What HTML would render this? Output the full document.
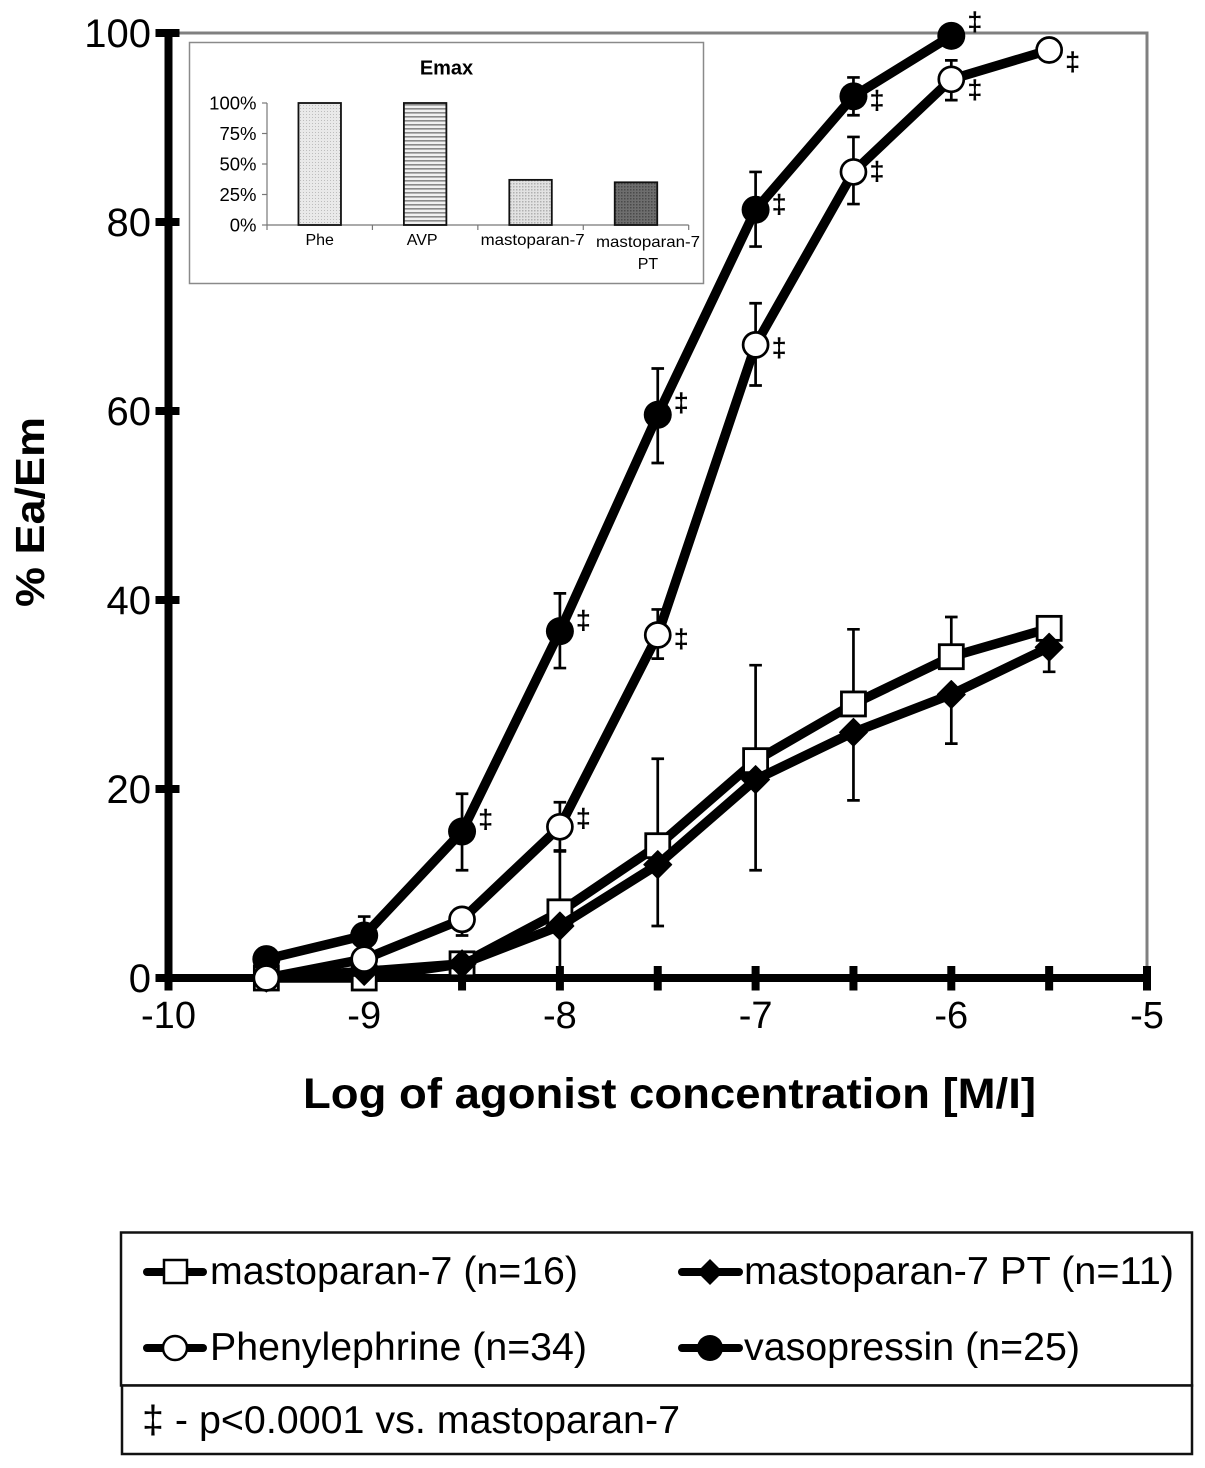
<!DOCTYPE html>
<html lang="en">
<head>
<meta charset="utf-8">
<title>Concentration-response curves</title>
<style>
html,body{margin:0;padding:0;background:#fff;}
svg{display:block;font-family:"Liberation Sans",Arial,sans-serif;}
</style>
</head>
<body>
<svg id="chart" xmlns="http://www.w3.org/2000/svg" width="1205" height="1468" viewBox="0 0 1205 1468">
  <defs>
    <pattern id="p-phe" width="3" height="3" patternUnits="userSpaceOnUse"><rect width="3" height="3" fill="#e9e9e9"/><rect width="1" height="1" fill="#bdbdbd"/></pattern>
    <pattern id="p-avp" width="4" height="4" patternUnits="userSpaceOnUse"><rect width="4" height="4" fill="#f0f0f0"/><rect width="4" height="1.6" fill="#8a8a8a"/></pattern>
    <pattern id="p-m7" width="3" height="3" patternUnits="userSpaceOnUse"><rect width="3" height="3" fill="#e2e2e2"/><rect width="1.5" height="1.5" fill="#b0b0b0"/></pattern>
    <pattern id="p-pt" width="3" height="3" patternUnits="userSpaceOnUse"><rect width="3" height="3" fill="#6e6e6e"/><rect width="1.5" height="1.5" fill="#4a4a4a"/></pattern>
  </defs>
  <g id="main-plot"></g>
  <g id="inset"></g>
  <text transform="translate(44,512) rotate(-90)" text-anchor="middle" font-size="41" font-weight="bold" textLength="190" lengthAdjust="spacingAndGlyphs">% Ea/Em</text>
  <text x="303" y="1108" font-size="43" font-weight="bold" textLength="733" lengthAdjust="spacingAndGlyphs">Log of agonist concentration [M/I]</text>

  <g>
    <rect x="121" y="1232.5" width="1071" height="153" fill="#fff" stroke="#111" stroke-width="2.5"/>
    <rect x="122" y="1385.5" width="1070" height="68.5" fill="#fff" stroke="#111" stroke-width="2.5"/>
    <g>
      <line x1="147" y1="1272" x2="203" y2="1272" stroke="#000" stroke-width="8" stroke-linecap="round"/>
      <rect x="164" y="1260" width="23" height="23" fill="#fff" stroke="#000" stroke-width="2.5"/>
      <text x="210" y="1284" font-size="39" textLength="368" lengthAdjust="spacingAndGlyphs">mastoparan-7 (n=16)</text>
    </g>
    <g>
      <line x1="682" y1="1272" x2="739" y2="1272" stroke="#000" stroke-width="8" stroke-linecap="round"/>
      <polygon points="710,1259 723,1272 710,1285 697,1272" fill="#000"/>
      <text x="744" y="1284" font-size="39" textLength="430" lengthAdjust="spacingAndGlyphs">mastoparan-7 PT (n=11)</text>
    </g>
    <g>
      <line x1="147" y1="1348" x2="203" y2="1348" stroke="#000" stroke-width="8" stroke-linecap="round"/>
      <circle cx="175" cy="1348" r="12" fill="#fff" stroke="#000" stroke-width="2.5"/>
      <text x="210" y="1360" font-size="39" textLength="377" lengthAdjust="spacingAndGlyphs">Phenylephrine (n=34)</text>
    </g>
    <g>
      <line x1="682" y1="1348" x2="739" y2="1348" stroke="#000" stroke-width="8" stroke-linecap="round"/>
      <circle cx="710" cy="1348" r="13" fill="#000"/>
      <text x="744" y="1360" font-size="39" textLength="336" lengthAdjust="spacingAndGlyphs">vasopressin (n=25)</text>
    </g>
    <text x="142" y="1433" font-size="39" textLength="538" lengthAdjust="spacingAndGlyphs">‡ - p&lt;0.0001 vs. mastoparan-7</text>
  </g>
</svg>
<script>
// ---- main chart data ----
const concentrations = [-9.5, -9, -8.5, -8, -7.5, -7, -6.5, -6, -5.5];
const xTickLabels = [-10, -9, -8, -7, -6, -5];
const xMinorTicks = [-9.5, -9, -8.5, -8, -7.5, -7, -6.5, -6, -5.5, -5];
const yTickLabels = [0, 20, 40, 60, 80, 100];

const mastoparanValues = [0, 0, 1.5, 7, 14, 23, 29, 34, 37];
const mastoparanUpper = [null, null, null, 13.4, 23.2, 33.1, 36.9, 38.2, null];
const ptValues = [0, 0.7, 1.5, 5.5, 12, 21, 26, 30, 35];
const ptLower = [null, null, null, 0, 5.5, 11.4, 18.8, 24.8, 32.4];
const pheValues = [0, 2, 6.2, 16, 36.3, 67, 85.3, 95.1, 98.2];
const pheUpper = [null, null, null, 18.6, 39, 71.4, 89, 97.1, null];
const pheLower = [null, null, 4.5, 13.5, 33.8, 62.7, 81.9, 92.9, null];
const avpValues = [2, 4.5, 15.5, 36.7, 59.6, 81.3, 93.3, 99.7, null];
const avpUpper = [null, 6.5, 19.5, 40.7, 64.5, 85.3, 95.3, null, null];
const avpLower = [null, null, 11.4, 32.8, 54.5, 77.4, 91.3, null, null];

const avpDaggerValues = [null, null, 16.7, 37.8, 60.8, 81.8, 92.8, 101.1, null];
const pheDaggerValues = [null, null, null, 16.8, 35.8, 66.6, 85.3, 93.9, 96.9];

// ---- inset chart data ----
const insetCategories = [["Phe"], ["AVP"], ["mastoparan-7"], ["mastoparan-7", "PT"]];
const insetValues = [100, 100, 37, 35];
const insetTicks = [0, 25, 50, 75, 100];

const NS = "http://www.w3.org/2000/svg";
function make(parent, tag, attrs, txt) {
  const el = document.createElementNS(NS, tag);
  for (const k in attrs) el.setAttribute(k, attrs[k]);
  if (txt !== undefined) el.textContent = txt;
  parent.appendChild(el);
  return el;
}
function xScale(v) { return 168.5 + (v + 10) * (1147 - 168.5) / 5; }
function yScale(v) { return 978 - v * (978 - 33) / 100; }

const plot = document.getElementById("main-plot");

// frame
const frame = make(plot, "path", {d: "M" + xScale(-10) + " " + yScale(100) + "H" + xScale(-5) + "V" + yScale(0), fill: "none", stroke: "#808080", "stroke-width": 3});



// axes
const yAxis = make(plot, "line", {x1: xScale(-10), x2: xScale(-10), y1: yScale(100) - 4, y2: yScale(0) + 12.5, stroke: "#000", "stroke-width": 8});


const xAxis = make(plot, "line", {x1: xScale(-10) - 13, x2: xScale(-5) + 4, y1: yScale(0), y2: yScale(0), stroke: "#000", "stroke-width": 8});



yTickLabels.forEach(function (v) {
  const t = make(plot, "line", {x1: xScale(-10) - 13, x2: xScale(-10) + 11, y1: yScale(v), y2: yScale(v), stroke: "#000", "stroke-width": 8});
  
  
  const l = make(plot, "text", {x: 151, y: yScale(v) + 14, "text-anchor": "end", "font-size": 40}, String(v));
  
  
});
xMinorTicks.forEach(function (v) {
  const t = make(plot, "line", {x1: xScale(v), x2: xScale(v), y1: yScale(0) - 12, y2: yScale(0) + 12.5, stroke: "#000", "stroke-width": 8});
  
  
});
xTickLabels.forEach(function (v) {
  const l = make(plot, "text", {x: xScale(v), y: 1028, "text-anchor": "middle", "font-size": 38}, String(v));
  
  
});

function drawErrorBars(name, values, bounds) {
  const g = make(plot, "g", {stroke: "#000", "stroke-width": 2.7, fill: "none"});
  
  
  bounds.forEach(function (b, i) {
    if (b === null || values[i] === null) return;
    const x = xScale(concentrations[i]);
    make(g, "path", {d: "M" + x + " " + yScale(values[i]) + "V" + yScale(b) + "M" + (x - 6.3) + " " + yScale(b) + "H" + (x + 6.3)});
  });
}
function drawLine(name, values) {
  let d = "";
  values.forEach(function (v, i) {
    if (v === null) return;
    d += (d ? "L" : "M") + xScale(concentrations[i]) + " " + yScale(v);
  });
  const p = make(plot, "path", {d: d, fill: "none", stroke: "#000", "stroke-width": 9.5, "stroke-linejoin": "round"});
  
  
}
function drawMarkers(name, values, kind) {
  const g = make(plot, "g", {});
  
  
  values.forEach(function (v, i) {
    if (v === null) return;
    const x = xScale(concentrations[i]), y = yScale(v);
    if (kind === "square") make(g, "rect", {x: x - 12, y: y - 12, width: 24, height: 24, fill: "#fff", stroke: "#000", "stroke-width": 2.8});
    if (kind === "diamond") make(g, "polygon", {points: [x, y - 14, x + 14, y, x, y + 14, x - 14, y].join(" "), fill: "#000", stroke: "#000", "stroke-width": 1, "stroke-linejoin": "round"});
    if (kind === "open") make(g, "circle", {cx: x, cy: y, r: 12.5, fill: "#fff", stroke: "#000", "stroke-width": 2.7});
    if (kind === "solid") make(g, "circle", {cx: x, cy: y, r: 14, fill: "#000"});
  });
}
function drawDaggers(name, daggers) {
  daggers.forEach(function (v, i) {
    if (v === null) return;
    const t = make(plot, "text", {x: xScale(concentrations[i]) + 23.5, y: yScale(v) + 8, "text-anchor": "middle", "font-size": 26, stroke: "#000", "stroke-width": 0.5}, "\u2021");
    
    
  });
}

drawErrorBars("mastoparan-7", mastoparanValues, mastoparanUpper);
drawErrorBars("mastoparan-7-pt", ptValues, ptLower);
drawErrorBars("phenylephrine", pheValues, pheUpper);
drawErrorBars("phenylephrine-lower", pheValues, pheLower);
drawErrorBars("vasopressin", avpValues, avpUpper);
drawErrorBars("vasopressin-lower", avpValues, avpLower);

drawLine("mastoparan-7", mastoparanValues);
drawMarkers("mastoparan-7", mastoparanValues, "square");
drawLine("mastoparan-7-pt", ptValues);
drawMarkers("mastoparan-7-pt", ptValues, "diamond");
drawLine("vasopressin", avpValues);
drawMarkers("vasopressin", avpValues, "solid");
drawLine("phenylephrine", pheValues);
drawMarkers("phenylephrine", pheValues, "open");
drawDaggers("vasopressin", avpDaggerValues);
drawDaggers("phenylephrine", pheDaggerValues);

// ---- inset ----
const inset = document.getElementById("inset");
const insetFills = ["url(#p-phe)", "url(#p-avp)", "url(#p-m7)", "url(#p-pt)"];
function insetX(i) { return 267 + i * (688.7 - 267) / insetCategories.length; }
function insetY(v) { return 225 - v * (225 - 103) / 100; }

const insetBox = make(inset, "rect", {x: 189.5, y: 42.5, width: 514, height: 241, fill: "#fff", stroke: "#8a8a8a", "stroke-width": 1.5});


const insetTitle = make(inset, "text", {x: 446.5, y: 74.5, "text-anchor": "middle", "font-size": 20, "font-weight": "bold"}, "Emax");



insetTicks.forEach(function (v) {
  const t = make(inset, "line", {x1: 262, x2: 267, y1: insetY(v), y2: insetY(v), stroke: "#777", "stroke-width": 1.2});
  
  
  const l = make(inset, "text", {x: 256.5, y: insetY(v) + 6.5, "text-anchor": "end", "font-size": 18.5}, v + "%");
  
  
});
const insetYAxis = make(inset, "line", {x1: 267, x2: 267, y1: insetY(100), y2: insetY(0) + 5, stroke: "#777", "stroke-width": 1.2});


const insetXAxis = make(inset, "line", {x1: 267, x2: 688.7, y1: insetY(0), y2: insetY(0), stroke: "#777", "stroke-width": 1.2});


for (let i = 1; i <= insetCategories.length; i++) {
  const t = make(inset, "line", {x1: insetX(i), x2: insetX(i), y1: insetY(0), y2: insetY(0) + 5, stroke: "#777", "stroke-width": 1.2});
  
  
}
insetValues.forEach(function (v, i) {
  const w = 42.5, cx = (insetX(i) + insetX(i + 1)) / 2;
  const b = make(inset, "rect", {x: cx - w / 2, y: insetY(v), width: w, height: insetY(0) - insetY(v), fill: insetFills[i], stroke: "#111", "stroke-width": 1.8});
  
  
  const labelShift = i === 3 ? 12 : (i === 2 ? 2 : (i === 1 ? -3 : 0));
  insetCategories[i].forEach(function (line, j) {
    const isLong = line.length > 5;
    const attrs = {x: cx + labelShift, y: (i === 3 ? 247 : 245) + j * 22, "text-anchor": "middle", "font-size": 16};
    if (isLong) { attrs.textLength = 104; attrs.lengthAdjust = "spacingAndGlyphs"; }
    const l = make(inset, "text", attrs, line);
    
    
  });
});
</script>
</body>
</html>
